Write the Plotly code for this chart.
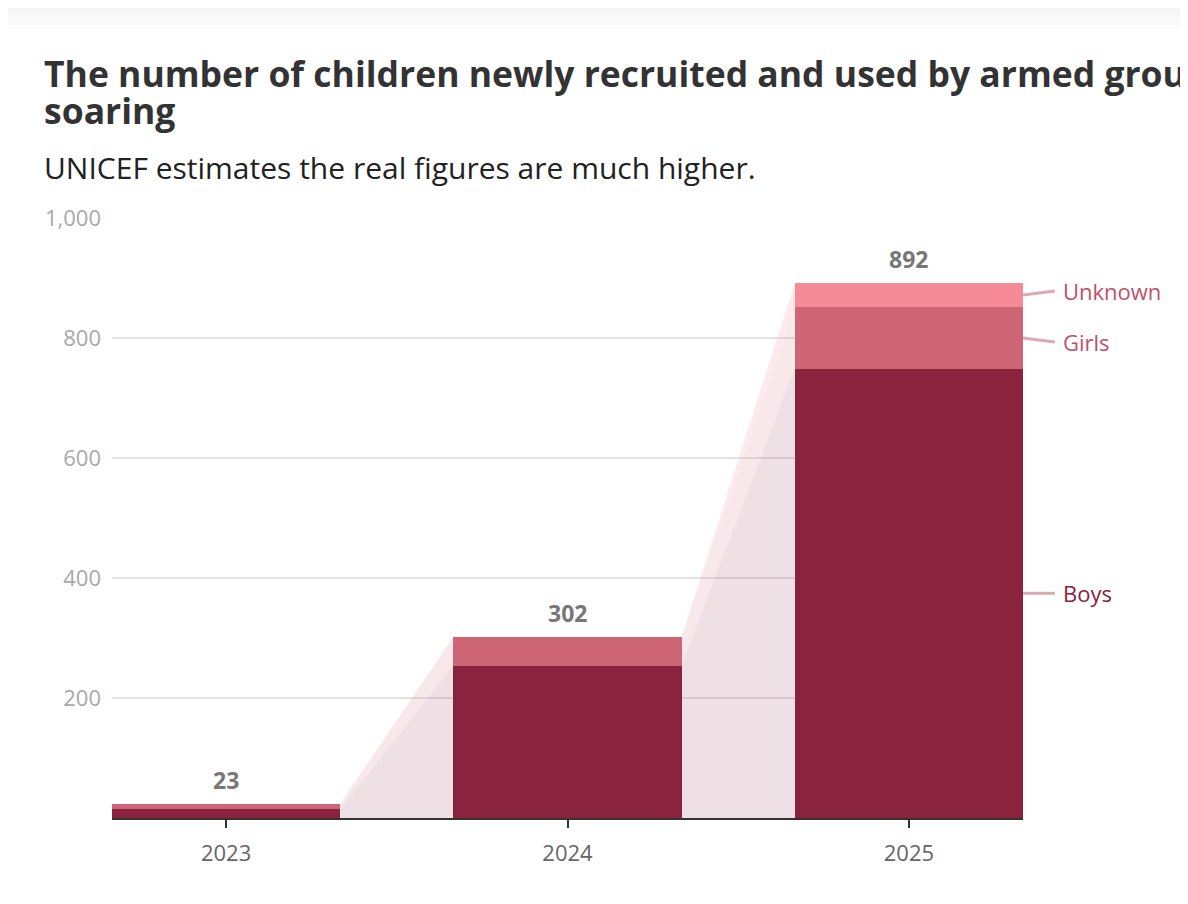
import plotly.graph_objects as go

# data
years = ["2023", "2024", "2025"]
boys = [15, 254, 749]
girls = [8, 48, 102]
unknown = [0, 0, 41]
totals = [23, 302, 892]
series_names = ["Boys", "Girls", "Unknown"]
y_ticks = [200, 400, 600, 800, 1000]

title_lines = ["The number of children newly recruited and used by armed groups is",
               "soaring"]
subtitle = "UNICEF estimates the real figures are much higher."

bar_colors = ["#8a233d", "#cd6575", "#f68b98"]
area_colors = ["rgba(138,35,61,0.14)", "rgba(205,101,117,0.15)", "rgba(246,139,152,0.18)"]
label_colors = ["#8a233d", "#c0506a", "#c0506a"]

FONT = "'Open Sans', Lato, sans-serif"
BAR_W = 0.668
half = BAR_W / 2
MIN_GAP = 85  # min label spacing in data units

series = [boys, girls, unknown]
xs = list(range(len(years)))

# cumulative stacks
cum = [[0] * len(years)]
for s in series:
    cum.append([a + b for a, b in zip(cum[-1], s)])

fig = go.Figure()

# shaded links between bars, one polygon per gap per series
for k in range(len(series)):
    lo, up = cum[k], cum[k + 1]
    for i in range(len(years) - 1):
        a, b = i + half, i + 1 - half
        fig.add_trace(go.Scatter(
            x=[a, b, b, a, a],
            y=[lo[i], lo[i + 1], up[i + 1], up[i], lo[i]],
            fill="toself", fillcolor=area_colors[k],
            mode="lines", line=dict(width=0),
            hoverinfo="skip", showlegend=False))

for k, s in enumerate(series):
    fig.add_trace(go.Bar(
        x=xs, y=s, width=BAR_W, name=series_names[k],
        marker=dict(color=bar_colors[k], line=dict(width=0)),
        showlegend=False))

# totals above bars
for i, t in enumerate(totals):
    fig.add_annotation(x=i, y=t, text="<b>%d</b>" % t, showarrow=False,
                       yanchor="bottom", yshift=6,
                       font=dict(family=FONT, size=23, color="#777777"))

# end labels for last bar, spread apart so they don't collide
last = len(years) - 1
mids = [(cum[k][last] + cum[k + 1][last]) / 2 for k in range(len(series))]
pos = list(mids)
order = sorted(range(len(pos)), key=lambda k: -pos[k])
for _ in range(20):
    for j in range(len(order) - 1):
        hi, lo_ = order[j], order[j + 1]
        gap = pos[hi] - pos[lo_]
        if gap < MIN_GAP:
            shift = (MIN_GAP - gap) / 2
            pos[hi] += shift
            pos[lo_] -= shift

for k in range(len(series)):
    fig.add_shape(type="line", xref="paper", yref="y",
                  x0=1.0, x1=1.035, y0=mids[k], y1=pos[k],
                  line=dict(color="#dba9b4", width=3))
    fig.add_annotation(xref="paper", yref="y", x=1.042, y=pos[k],
                       text=series_names[k], showarrow=False, xanchor="left",
                       font=dict(family=FONT, size=22, color=label_colors[k]))

# title (two lines, tight leading) and subtitle
for j, line in enumerate(title_lines):
    fig.add_annotation(xref="paper", yref="paper", x=-0.077, y=1.2425 - j * 0.0617,
                       text="<b>%s</b>" % line, showarrow=False,
                       xanchor="left", yanchor="middle",
                       font=dict(family=FONT, size=35.5, color="#333333"))
fig.add_annotation(xref="paper", yref="paper", x=-0.077, y=1.085,
                   text=subtitle, showarrow=False, xanchor="left", yanchor="middle",
                   font=dict(family=FONT, size=30, color="#222222"))

# faint shadow band at the very top
for j in range(6):
    fig.add_shape(type="rect", xref="paper", yref="paper",
                  x0=-0.2, x1=1.2, y0=1.35 - j * 0.007, y1=1.36,
                  fillcolor="rgba(0,0,0,0.008)", line=dict(width=0), layer="above")

fig.update_layout(
    width=1180, height=896,
    barmode="stack",
    paper_bgcolor="white", plot_bgcolor="white",
    margin=dict(l=104, r=165, t=210, b=86),
    font=dict(family=FONT),
)

fig.update_xaxes(range=[-half, len(years) - 1 + half],
                 tickvals=xs, ticktext=years,
                 ticks="outside", ticklen=8, tickwidth=2, tickcolor="#333333",
                 showline=True, linecolor="#333333", linewidth=2,
                 showgrid=False, zeroline=False, ticklabelstandoff=7,
                 tickfont=dict(family=FONT, size=22, color="#666666"))
fig.update_yaxes(range=[0, 1000], tickvals=y_ticks,
                 ticktext=["{:,}".format(v) for v in y_ticks],
                 showgrid=True, gridcolor="#e3e3e3", gridwidth=1.5,
                 zeroline=False, showline=False, ticks="",
                 ticklabelstandoff=10,
                 tickfont=dict(family=FONT, size=22, color="#a8a8a8"))

fig.write_html("out.html")
